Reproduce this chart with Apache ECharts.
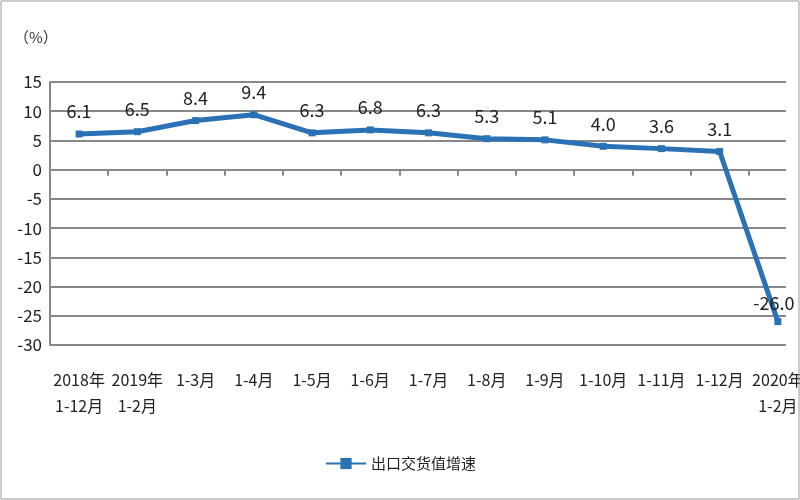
<!DOCTYPE html>
<html><head><meta charset="utf-8">
<script src="https://cdn.jsdelivr.net/npm/echarts@6/dist/echarts.min.js"></script>
<style>html,body{margin:0;padding:0;background:#fff;overflow:hidden}#c{width:820px;height:500px}</style>
</head><body><div id="c"></div>
<script>
const categories = ['2018年\n1-12月','2019年\n1-2月','1-3月','1-4月','1-5月','1-6月','1-7月','1-8月','1-9月','1-10月','1-11月','1-12月','2020年\n1-2月'];
const values = [6.1,6.5,8.4,9.4,6.3,6.8,6.3,5.3,5.1,4.0,3.6,3.1,-26.0];
const seriesName = '出口交货值增速';
const font = '"Liberation Sans Narrow","Noto Sans CJK SC",sans-serif';
const chart = echarts.init(document.getElementById('c'));
const data = values.map((v,i)=> i===values.length-1 ? {value:v,label:{position:'top',distance:6,offset:[-4,0]}} : v);
chart.setOption({
  animation:false,
  graphic:[
    {type:'rect',z:100,shape:{x:786,y:60,width:40,height:300},style:{fill:'#fff'}},
    {type:'rect',z:101,shape:{x:1,y:1,width:798,height:498},style:{fill:null,stroke:'#999',lineWidth:1}},
    {type:'text',left:14,top:30,style:{text:'（%）',font:'15px "Noto Sans CJK SC"',fill:'#333'}}],
  grid:{left:50,right:13,top:82,bottom:155},
  legend:{bottom:24,left:320,itemWidth:40,textStyle:{fontFamily:'Noto Sans CJK SC',fontSize:15,color:'#222'},data:[seriesName]},
  xAxis:[{type:'category',data:categories,position:'bottom',axisLine:{onZero:true,lineStyle:{color:'#888',width:2}},axisTick:{show:true,length:6,inside:false,lineStyle:{color:'#888',width:2}},axisLabel:{show:false}},
    {type:'category',data:categories,position:'bottom',axisLine:{show:false},axisTick:{show:false},axisLabel:{interval:0,margin:22,fontFamily:font,fontSize:16,color:'#222',lineHeight:26}}],
  yAxis:{type:'value',min:-30,max:15,interval:5,axisLine:{show:true,lineStyle:{color:'#888',width:2}},axisTick:{show:false},
    splitLine:{lineStyle:{color:'#888',width:2}},axisLabel:{fontFamily:font,fontSize:17,color:'#222',margin:8}},
  series:[{name:seriesName,type:'line',z:200,data:data,symbol:'rect',symbolSize:7,
    lineStyle:{color:'#2a72b5',width:5},itemStyle:{color:'#2a72b5'},
    label:{show:true,position:'top',distance:10,fontFamily:font,fontSize:18,color:'#222',formatter:p=>p.value.toFixed(1)}}]
});
</script></body></html>
